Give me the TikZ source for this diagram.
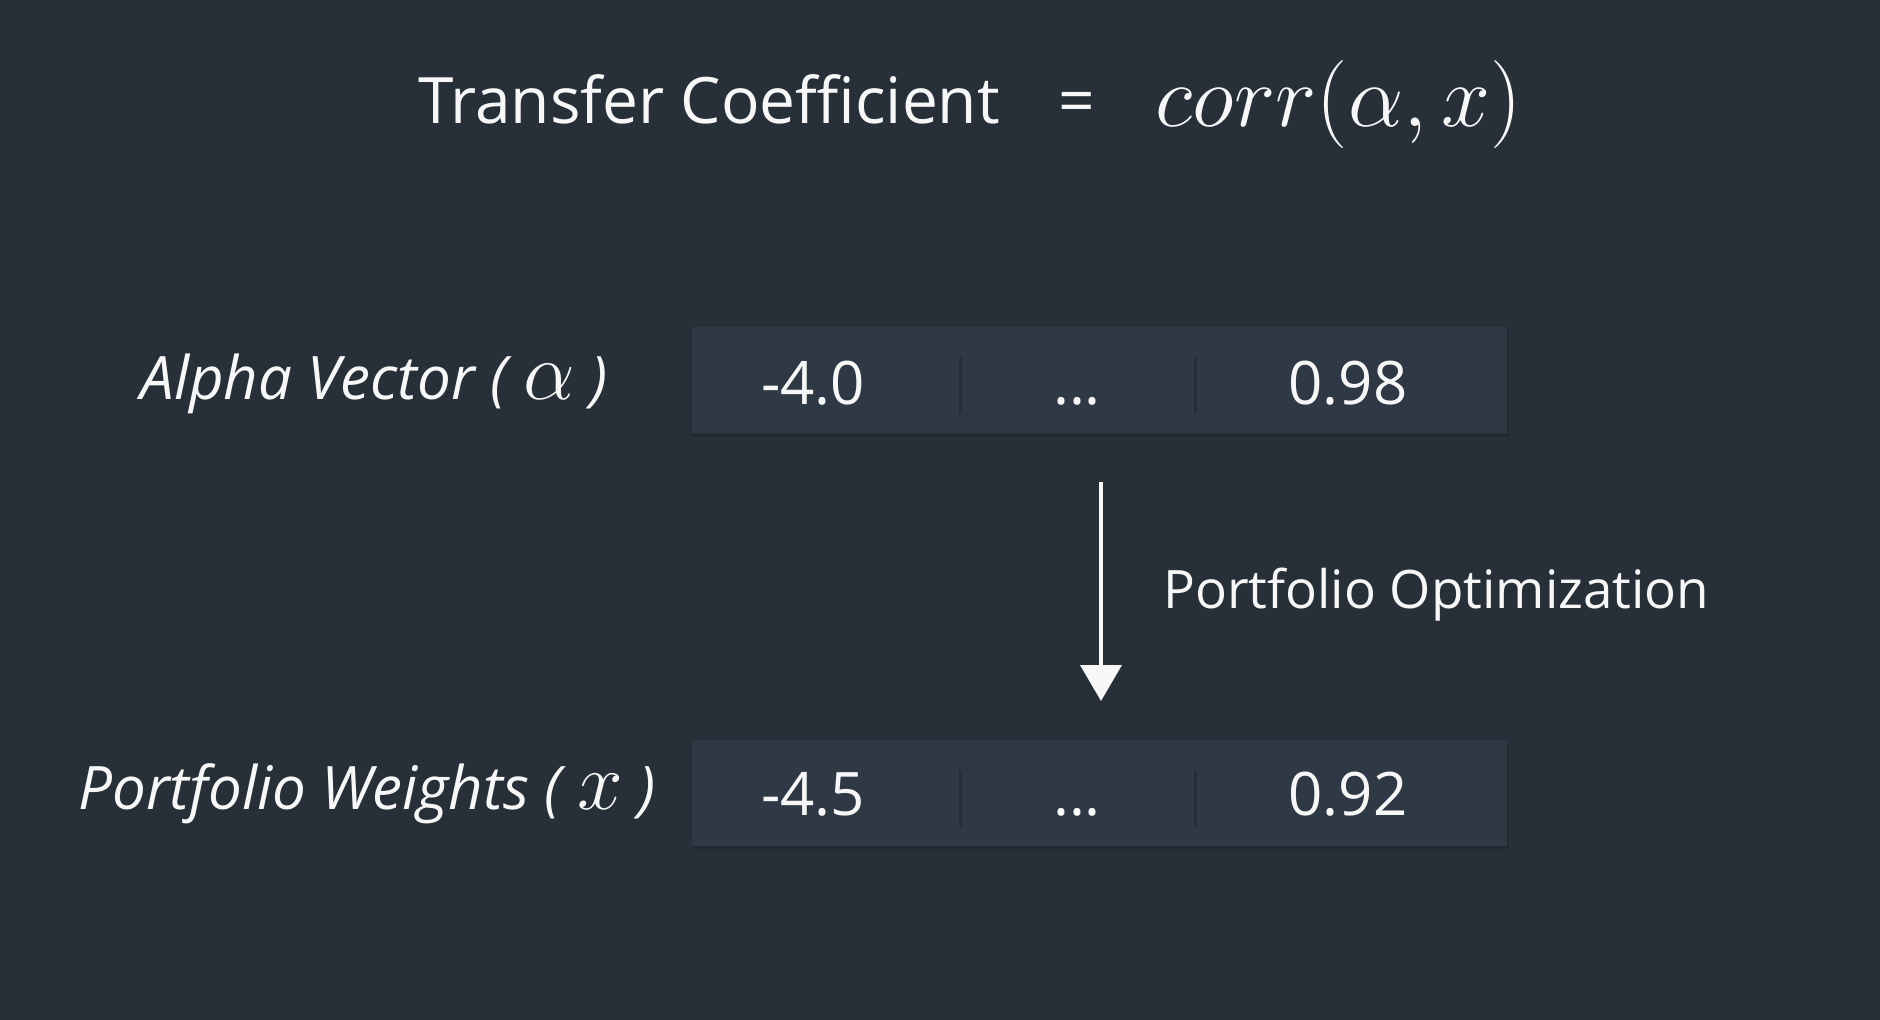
\RequirePackage{fix-cm}
\documentclass[tikz,border=0pt]{standalone}
\usepackage{fontspec}
\setmainfont{Open Sans}
\usetikzlibrary{arrows.meta}
\definecolor{bgc}{HTML}{272F38}
\definecolor{boxc}{HTML}{2E3945}
\definecolor{shadowc}{HTML}{222930}
\definecolor{divc}{HTML}{262E37}
\definecolor{txt}{HTML}{F7F7F7}
\newcommand{\bigmath}[1]{{\fontsize{82}{90}\selectfont$#1$}}
\tikzset{
  vecbox/.style={rectangle, fill=boxc, minimum width=815pt, minimum height=106pt, inner sep=0pt},
  cell/.style={text=txt, font=\fontsize{60}{72}\selectfont, inner sep=0pt, anchor=base},
  lbl/.style={text=txt, font=\fontsize{60}{72}\selectfont\itshape, inner sep=0pt, anchor=base east},
  divider/.style={draw=divc, line width=3pt},
  flow/.style={draw=txt, line width=4pt, -{Triangle[width=41pt,length=36pt]}}
}
\begin{document}
\begin{tikzpicture}[x=1pt,y=-1pt]
\fill[bgc] (0,0) rectangle (1880,1020);
\useasboundingbox (0,0) rectangle (1880,1020);
% title
\node[text=txt, font=\fontsize{64}{76}\selectfont, inner sep=0pt, anchor=base] (tc) at (709,123) {Transfer Coefficient};
\node[text=txt, font=\fontsize{64}{76}\selectfont, inner sep=0pt, anchor=base] (eq) at (1077,123) {=};
\node[text=txt, font=\fontsize{88}{100}\selectfont, inner sep=0pt, anchor=base] (corr) at (1339,126) {$corr(\alpha,x)$};
% shadows
\fill[shadowc] (692,331) rectangle (1509,437);
\fill[shadowc] (692,744) rectangle (1509,849);
% boxes
\node[vecbox] (b1) at (1099.5,380) {};
\node[vecbox] (b2) at (1099.5,792.5) {};
\draw[divider] (960,357) -- (960,414);
\draw[divider] (1195,357) -- (1195,414);
\draw[divider] (960,770) -- (960,827);
\draw[divider] (1195,770) -- (1195,827);
\node[cell] (a1) at (813,404) {-4.0};
\node[cell] (a2) at (1077,404) {...};
\node[cell] (a3) at (1348,404) {0.98};
\node[cell] (w1) at (813,815) {-4.5};
\node[cell] (w2) at (1077,815) {...};
\node[cell] (w3) at (1348,815) {0.92};
% labels
\node[lbl] (la) at (608,399) {Alpha Vector ( \bigmath{\alpha} )};
\node[lbl] (lw) at (656,809) {Portfolio Weights ( \bigmath{x} )};
% arrow
\coordinate (arrS) at (1101,482);
\coordinate (arrE) at (1101,701);
\draw[flow] (arrS) -- (arrE);
\node[text=txt, font=\fontsize{53}{64}\selectfont, inner sep=0pt, anchor=base west] (po) at (1163,608) {Portfolio Optimization};
\end{tikzpicture}
\end{document}
